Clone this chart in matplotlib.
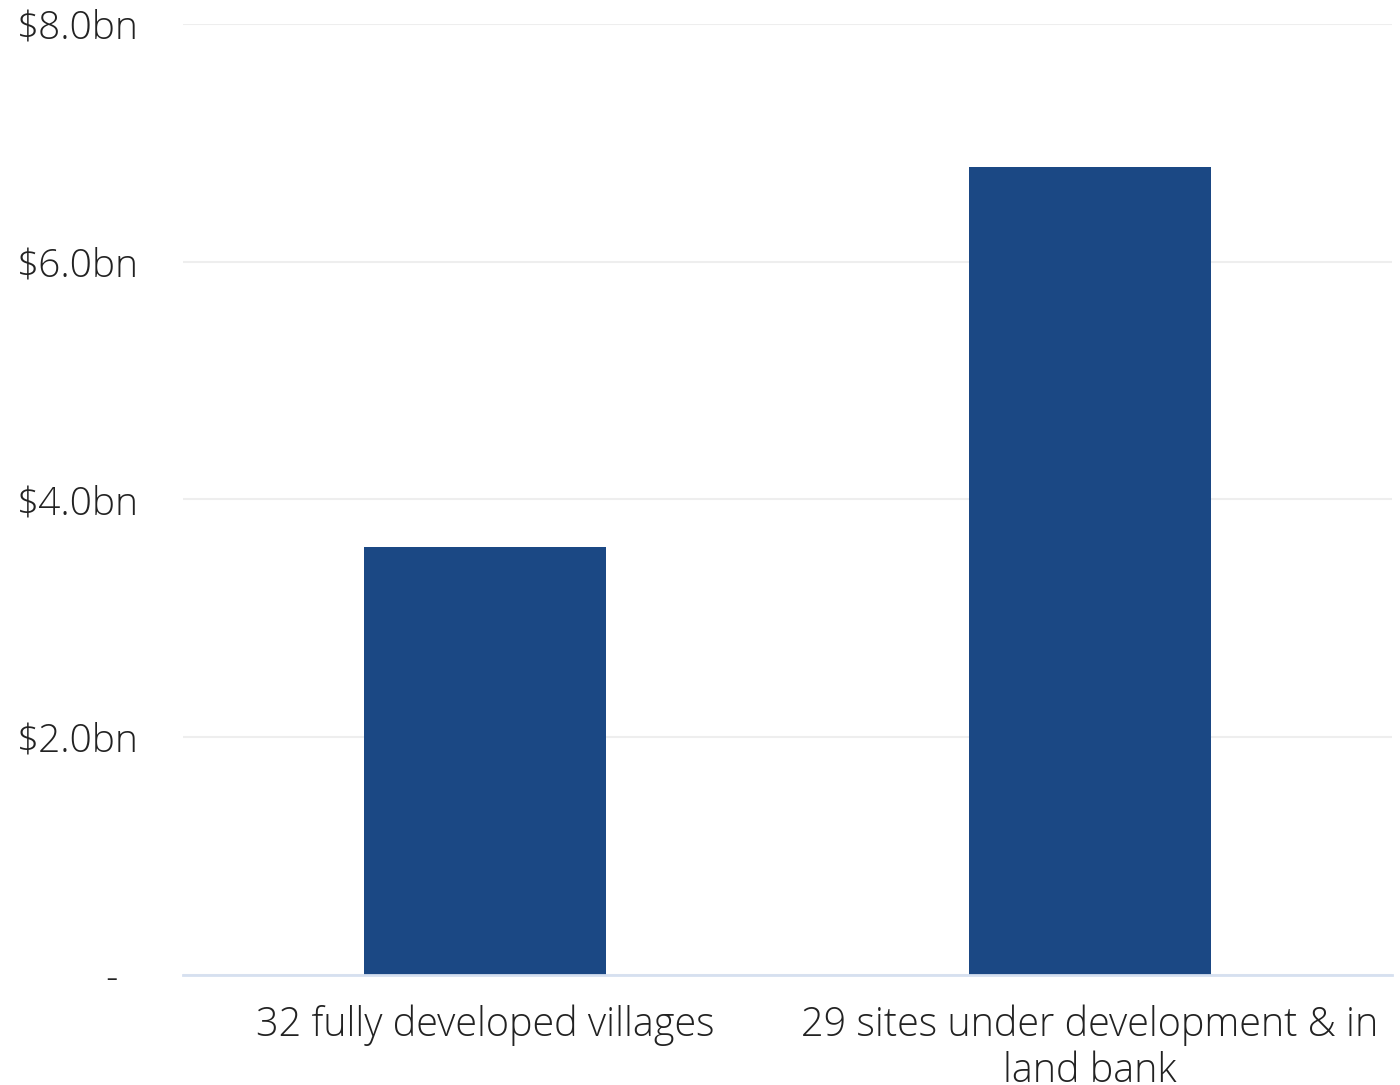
import matplotlib
matplotlib.use("Agg")
import matplotlib.pyplot as plt
from matplotlib.ticker import FixedLocator, FixedFormatter

categories = ["32 fully developed villages", "29 sites under development & in\nland bank"]
values = [3.6, 6.8]
yticks = [0, 2, 4, 6, 8]
ytick_labels = ["-  ", "$2.0bn", "$4.0bn", "$6.0bn", "$8.0bn"]

plt.rcParams['font.family'] = ['Open Sans', 'DejaVu Sans']
plt.rcParams['font.weight'] = 'light'

fig = plt.figure(figsize=(14, 10.85), dpi=100)
ax = fig.add_axes([0.1307, 0.1014, 0.9943 - 0.1307, 0.9779 - 0.1014])

x = list(range(len(categories)))
ax.bar(x, values, width=0.4, color="#1b4884", zorder=3)
ax.set_xlim(-0.5, 1.5)
ax.set_ylim(0, 8)

ax.yaxis.set_major_locator(FixedLocator(yticks))
ax.yaxis.set_major_formatter(FixedFormatter(ytick_labels))
ax.set_xticks(x)
ax.set_xticklabels(categories, fontsize=28.5, color="#222222", linespacing=1.16,
                   fontweight='light')
for t in ax.get_yticklabels():
    t.set_fontweight('light')
ax.tick_params(axis='y', length=0, pad=32, labelsize=28, labelcolor="#222222")
ax.tick_params(axis='x', length=0, pad=21)

ax.grid(axis='y', color="#eeeeee", linewidth=1.5, zorder=0)
for s in ['top', 'right', 'left']:
    ax.spines[s].set_visible(False)
ax.spines['bottom'].set_color("#d6e0f0")
ax.spines['bottom'].set_linewidth(2)
ax.spines['bottom'].set_zorder(4)

fig.savefig("out.png", dpi=100)
